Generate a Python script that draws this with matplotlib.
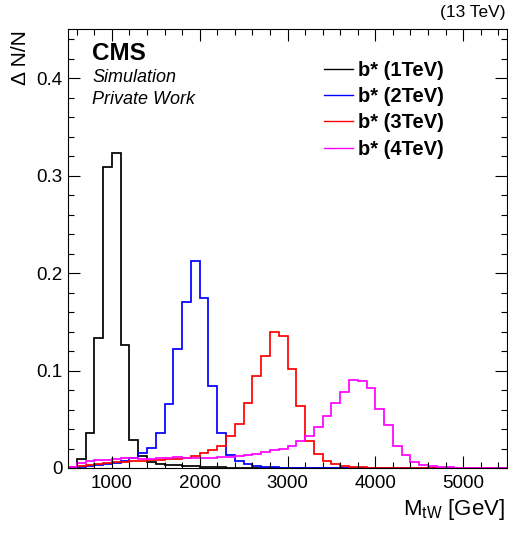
import numpy as np
import matplotlib
matplotlib.use("Agg")
import matplotlib.pyplot as plt
from matplotlib.ticker import MultipleLocator

plt.rcParams["font.family"] = ["Liberation Sans", "DejaVu Sans"]
plt.rcParams["mathtext.fontset"] = "custom"
plt.rcParams["mathtext.rm"] = "Liberation Sans"
plt.rcParams["mathtext.it"] = "Liberation Sans:italic"

# 100 GeV bins from 500 to 5500 GeV
bin_edges = np.arange(500, 5501, 100)

labels = ["b* (1TeV)", "b* (2TeV)", "b* (3TeV)", "b* (4TeV)"]
colors = ["black", "#0000ff", "#ff0000", "#ff00ff"]

# normalised fractions per bin
frac_1tev = [0.001, 0.009, 0.036, 0.133, 0.309, 0.323, 0.126, 0.029, 0.012, 0.006,
             0.004, 0.003, 0.003, 0.002, 0.002, 0.001, 0.001, 0.001, 0.0, 0.0,
             0.0, 0.0, 0.0, 0.0, 0.0, 0.0, 0.0, 0.0, 0.0, 0.0,
             0.0, 0.0, 0.0, 0.0, 0.0, 0.0, 0.0, 0.0, 0.0, 0.0,
             0.0, 0.0, 0.0, 0.0, 0.0, 0.0, 0.0, 0.0, 0.0, 0.0]
frac_2tev = [0.0, 0.001, 0.002, 0.003, 0.004, 0.005, 0.007, 0.010, 0.015, 0.021,
             0.036, 0.066, 0.122, 0.170, 0.212, 0.174, 0.084, 0.036, 0.013, 0.007,
             0.004, 0.002, 0.001, 0.001, 0.0, 0.0, 0.0, 0.0, 0.0, 0.0,
             0.0, 0.0, 0.0, 0.0, 0.0, 0.0, 0.0, 0.0, 0.0, 0.0,
             0.0, 0.0, 0.0, 0.0, 0.0, 0.0, 0.0, 0.0, 0.0, 0.0]
frac_3tev = [0.001, 0.002, 0.003, 0.004, 0.005, 0.006, 0.006, 0.007, 0.007, 0.008,
             0.008, 0.009, 0.009, 0.010, 0.012, 0.015, 0.018, 0.023, 0.033, 0.045,
             0.067, 0.094, 0.115, 0.140, 0.135, 0.102, 0.064, 0.028, 0.014, 0.0075,
             0.004, 0.002, 0.001, 0.001, 0.0, 0.0, 0.0, 0.0, 0.0, 0.0,
             0.0, 0.0, 0.0, 0.0, 0.0, 0.0, 0.0, 0.0, 0.0, 0.0]
frac_4tev = [0.001, 0.005, 0.007, 0.008, 0.008, 0.009, 0.010, 0.010, 0.009, 0.009,
             0.010, 0.010, 0.011, 0.010, 0.010, 0.010, 0.010, 0.011, 0.0115, 0.012,
             0.013, 0.014, 0.016, 0.018, 0.020, 0.023, 0.028, 0.033, 0.042, 0.053,
             0.067, 0.078, 0.090, 0.089, 0.082, 0.061, 0.044, 0.023, 0.013, 0.0065,
             0.0035, 0.002, 0.001, 0.001, 0.0005, 0.0, 0.0, 0.0, 0.0, 0.0]

W, H = 508, 534
fig = plt.figure(figsize=(W / 100, H / 100), dpi=100)
ax = fig.add_axes([68 / W, 1 - 468 / H, (507 - 68) / W, (468 - 29.3) / H])

for vals, col, lab in zip([frac_1tev, frac_2tev, frac_3tev, frac_4tev], colors, labels):
    ax.stairs(vals, bin_edges, color=col, lw=1.25, label=lab)

ax.set_xlim(500, 5500)
ax.set_ylim(0, 0.45)
ax.xaxis.set_major_locator(MultipleLocator(1000))
ax.xaxis.set_minor_locator(MultipleLocator(200))
ax.yaxis.set_major_locator(MultipleLocator(0.1))
ax.yaxis.set_minor_locator(MultipleLocator(0.02))
ax.set_yticks([0, 0.1, 0.2, 0.3, 0.4])
ax.set_yticklabels(["0", "0.1", "0.2", "0.3", "0.4"])
ax.tick_params(which="both", direction="in", top=True, right=True, width=0.8,
               labelsize=13.5)
ax.tick_params(which="major", length=8.6)
ax.tick_params(which="minor", length=4.3)
ax.tick_params(axis="x", pad=5)
ax.tick_params(axis="y", pad=4)
for sp in ax.spines.values():
    sp.set_linewidth(0.8)

fig.text(505 / W, 1 - 510 / H, "M$_{\\mathrm{tW}}$ [GeV]", ha="right", va="center",
         fontsize=16)
fig.text(20 / W, 1 - 30 / H, "Δ N/N", rotation=90, ha="center", va="top", fontsize=15)
fig.text(505 / W, 1 - 12 / H, "(13 TeV)", ha="right", va="center", fontsize=12.5)
fig.text(92 / W, 1 - 53 / H, "CMS", ha="left", va="center", fontsize=17.5, weight="bold")
fig.text(92 / W, 1 - 78 / H, "Simulation", ha="left", va="center", fontsize=13, style="italic")
fig.text(92 / W, 1 - 99 / H, "Private Work", ha="left", va="center", fontsize=13, style="italic")

leg = ax.legend(loc="upper left", bbox_to_anchor=(324 / W, 1 - 61 / H),
                bbox_transform=fig.transFigure, frameon=False,
                prop={"weight": "bold", "size": 14.5}, handlelength=1.45,
                handletextpad=0.25, labelspacing=0.36, borderaxespad=0, borderpad=0)
for line in leg.get_lines():
    line.set_linewidth(1.0)

fig.savefig("out.png", dpi=100)
